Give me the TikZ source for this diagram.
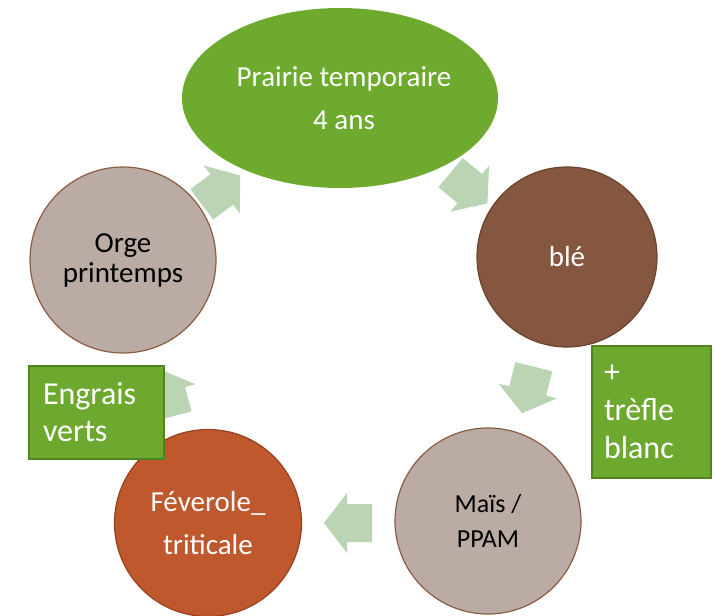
\documentclass[tikz,border=0pt]{standalone}
\usepackage{fontspec}
\setmainfont{Carlito}
\usetikzlibrary{shapes.geometric}

\definecolor{prairiegreen}{RGB}{109,170,46}
\definecolor{blebrown}{RGB}{133,87,64}
\definecolor{bleborder}{RGB}{108,66,46}
\definecolor{greypink}{RGB}{186,171,165}
\definecolor{greyborder}{RGB}{140,92,66}
\definecolor{feverolered}{RGB}{192,88,45}
\definecolor{feveroleborder}{RGB}{150,66,32}
\definecolor{boxgreen}{RGB}{108,169,46}
\definecolor{boxborder}{RGB}{78,132,34}
\definecolor{arrowgreen}{RGB}{186,212,180}

\tikzset{
  crop/.style={circle, inner sep=0pt, line width=1.2pt, align=center},
  note/.style={rectangle, fill=boxgreen, draw=boxborder, line width=2pt, text=white, align=left, anchor=north west},
  cyclearrow/.pic={\fill[arrowgreen] (-24,-19) -- (1,-19) -- (1,-30) -- (24,0) -- (1,30) -- (1,19) -- (-24,19) -- cycle;}
}

\begin{document}
\begin{tikzpicture}[x=1pt,y=-1pt]
\useasboundingbox (0,0) rectangle (716,616);
% arrows of the cycle
\pic[rotate=37] at (221,190) {cyclearrow};
\pic[rotate=-40] at (469,188) {cyclearrow};
\pic[rotate=-104] at (528,390) {cyclearrow};
\pic[rotate=180] at (348,523) {cyclearrow};
\pic[rotate=105] at (167,393) {cyclearrow};
% crops
\node[ellipse, fill=prairiegreen, inner sep=0pt, minimum width=316, minimum height=180, text=white, align=center, font=\fontsize{29}{43}\selectfont] (prairie) at (340,98) {\hspace*{8pt}Prairie temporaire\\\hspace*{8pt}4 ans};
\node[crop, fill=blebrown, draw=bleborder, minimum size=180, text=white, font=\fontsize{29}{34}\selectfont] (ble) at (567,257) {blé};
\node[crop, fill=greypink, draw=greyborder, minimum size=186, font=\fontsize{26}{35}\selectfont] (mais) at (488,521) {Maïs /\\PPAM};
\node[crop, fill=feverolered, draw=feveroleborder, minimum size=187, text=white, font=\fontsize{29}{43}\selectfont] (feverole) at (208,523) {Féverole\_\\triticale};
\node[crop, fill=greypink, draw=greyborder, minimum size=186, font=\fontsize{29}{30}\selectfont] (orge) at (123,260) {Orge\\printemps};
% notes
\node[note, minimum width=119, minimum height=132, text width=95, inner xsep=12, font=\fontsize{32}{38}\selectfont] (trefle) at (591,345) {+\\trèfle\\blanc};
\node[note, minimum width=135, minimum height=93, text width=107, inner xsep=14, font=\fontsize{32}{37}\selectfont] (engrais) at (28,365) {Engrais\\verts};
\end{tikzpicture}
\end{document}
